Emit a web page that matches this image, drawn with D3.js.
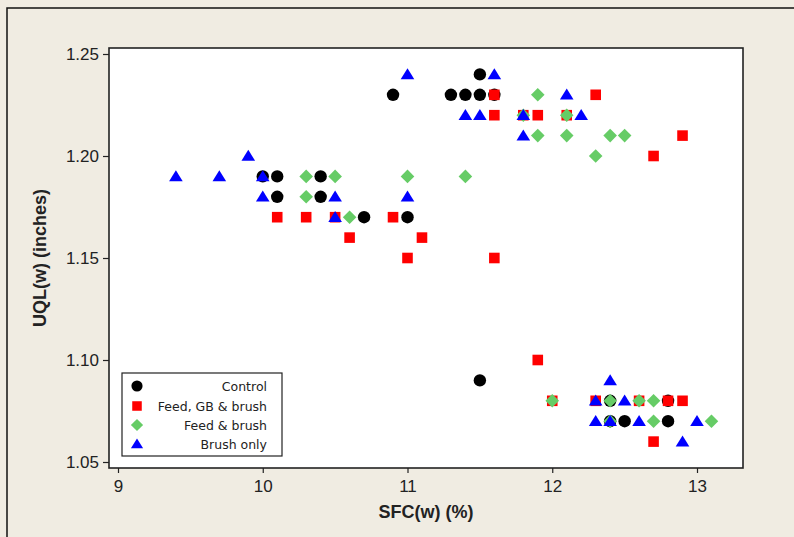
<!DOCTYPE html>
<html>
<head>
<meta charset="utf-8">
<script src="https://cdn.jsdelivr.net/npm/d3@7"></script>
<style>
  html, body { margin: 0; padding: 0; background: #f0ece2; }
  svg { display: block; }
</style>
</head>
<body>
<svg id="chart" width="794" height="537"></svg>
<script>
// ---- Data (SFC(w) %, UQL(w) inches) ----
const seriesNames = ["Control", "Feed, GB & brush", "Feed & brush", "Brush only"];

const controlX = [10.0, 10.1, 10.1, 10.4, 10.4, 10.7, 11.0, 10.9, 11.3, 11.4, 11.5, 11.6, 11.5, 11.5, 12.4, 12.4, 12.5, 12.8, 12.8];
const controlY = [1.19, 1.19, 1.18, 1.19, 1.18, 1.17, 1.17, 1.23, 1.23, 1.23, 1.23, 1.23, 1.24, 1.09, 1.08, 1.07, 1.07, 1.07, 1.08];

const feedGBX = [10.1, 10.3, 10.5, 10.6, 10.9, 11.0, 11.1, 11.6, 11.6, 11.6, 11.8, 11.9, 12.1, 12.3, 12.7, 12.9, 11.9, 12.0, 12.3, 12.6, 12.8, 12.9, 12.7];
const feedGBY = [1.17, 1.17, 1.17, 1.16, 1.17, 1.15, 1.16, 1.15, 1.23, 1.22, 1.22, 1.22, 1.22, 1.23, 1.20, 1.21, 1.10, 1.08, 1.08, 1.08, 1.08, 1.08, 1.06];

const feedX = [10.3, 10.3, 10.5, 10.6, 11.0, 11.4, 11.9, 11.8, 12.1, 11.9, 12.1, 12.4, 12.5, 12.3, 12.0, 12.4, 12.6, 12.7, 12.4, 12.7, 13.1];
const feedY = [1.19, 1.18, 1.19, 1.17, 1.19, 1.19, 1.23, 1.22, 1.22, 1.21, 1.21, 1.21, 1.21, 1.20, 1.08, 1.08, 1.08, 1.08, 1.07, 1.07, 1.07];

const brushX = [9.4, 9.7, 9.9, 10.0, 10.0, 10.5, 10.5, 11.0, 11.0, 11.6, 11.4, 11.5, 11.8, 11.8, 12.1, 12.2, 12.4, 12.3, 12.5, 12.3, 12.4, 12.6, 13.0, 12.9];
const brushY = [1.19, 1.19, 1.20, 1.19, 1.18, 1.18, 1.17, 1.18, 1.24, 1.24, 1.22, 1.22, 1.22, 1.21, 1.23, 1.22, 1.09, 1.08, 1.08, 1.07, 1.07, 1.07, 1.07, 1.06];

const xTicks = [9, 10, 11, 12, 13];
const yTicks = [1.05, 1.10, 1.15, 1.20, 1.25];

// ---- Layout ----
const svg = d3.select("#chart");
const frame = { left: 109, right: 743, top: 48, bottom: 468 };
const x = d3.scaleLinear().domain([9, 13]).range([118, 697]);
const y = d3.scaleLinear().domain([1.05, 1.25]).range([462, 54]);

// outer border (only top & left visible)
svg.append("rect").attr("x", 0).attr("y", 0).attr("width", 794).attr("height", 537).attr("fill", "#f0ece2");
svg.append("path").attr("d", "M7,537 V8 H794").attr("fill", "none").attr("stroke", "#111").attr("stroke-width", 1.5);

// plot area
svg.append("rect")
  .attr("x", frame.left).attr("y", frame.top)
  .attr("width", frame.right - frame.left).attr("height", frame.bottom - frame.top)
  .attr("fill", "#ffffff");

// symbols
function symPath(type, s) {
  if (type === 0) { const r = 6.2 * s; return `M${-r},0 A${r},${r} 0 1,0 ${r},0 A${r},${r} 0 1,0 ${-r},0 Z`; }
  if (type === 1) { const h = 5.3 * s; return `M${-h},${-h} H${h} V${h} H${-h} Z`; }
  if (type === 2) { const h = 6.8 * s; return `M0,${-h} L${h},0 L0,${h} L${-h},0 Z`; }
  const w = 6.8 * s, t = 6.2 * s, b = 4.8 * s;
  return `M0,${-t} L${w},${b} L${-w},${b} Z`;
}
const colors = ["#000000", "#ff0000", "#66cc66", "#0000ff"];
const series = [
  { xs: controlX, ys: controlY },
  { xs: feedGBX, ys: feedGBY },
  { xs: feedX, ys: feedY },
  { xs: brushX, ys: brushY }
];

const gPts = svg.append("g");
series.forEach((s, i) => {
  const pts = s.xs.map((v, k) => [v, s.ys[k]]);
  gPts.append("g").selectAll("path").data(pts).join("path")
    .attr("transform", d => `translate(${x(d[0])},${y(d[1])})`)
    .attr("d", symPath(i, 1))
    .attr("fill", colors[i]);
});

// frame border
svg.append("rect")
  .attr("x", frame.left).attr("y", frame.top)
  .attr("width", frame.right - frame.left).attr("height", frame.bottom - frame.top)
  .attr("fill", "none").attr("stroke", "#222").attr("stroke-width", 1.6);

// axes
const tickFont = "'Liberation Sans', Arial, sans-serif";
const xAxis = svg.append("g").attr("transform", `translate(0,${frame.bottom})`)
  .call(d3.axisBottom(x).tickValues(xTicks).tickFormat(d3.format("d")).tickSize(5).tickPadding(7));
const yAxis = svg.append("g").attr("transform", `translate(${frame.left},0)`)
  .call(d3.axisLeft(y).tickValues(yTicks).tickFormat(d3.format(".2f")).tickSize(6).tickPadding(4));
[xAxis, yAxis].forEach(g => {
  g.select(".domain").remove();
  g.selectAll("line").attr("stroke", "#222").attr("stroke-width", 1.2);
  g.selectAll("text").attr("fill", "#222").style("font-family", tickFont).style("font-size", "17px");
});

// axis titles
svg.append("text").attr("x", 426).attr("y", 518).attr("text-anchor", "middle")
  .style("font-family", tickFont).style("font-size", "18px").style("font-weight", "bold").attr("fill", "#222")
  .text("SFC(w) (%)");
svg.append("text").attr("transform", "translate(46,258) rotate(-90)").attr("text-anchor", "middle")
  .style("font-family", tickFont).style("font-size", "18px").style("font-weight", "bold").attr("fill", "#222")
  .text("UQL(w) (inches)");

// legend
const lg = svg.append("g");
lg.append("rect").attr("x", 122).attr("y", 373).attr("width", 160).attr("height", 83)
  .attr("fill", "#fff").attr("stroke", "#222").attr("stroke-width", 1.2);
const legendY = [386, 406, 425, 444];
seriesNames.forEach((name, i) => {
  lg.append("path").attr("transform", `translate(137,${legendY[i]})`).attr("d", symPath(i, 0.9)).attr("fill", colors[i]);
  lg.append("text").attr("x", 267).attr("y", legendY[i]).attr("dy", "0.36em").attr("text-anchor", "end")
    .style("font-family", "'DejaVu Sans', Verdana, sans-serif").style("font-size", "12.5px").attr("fill", "#222")
    .text(name);
});
</script>
</body>
</html>
